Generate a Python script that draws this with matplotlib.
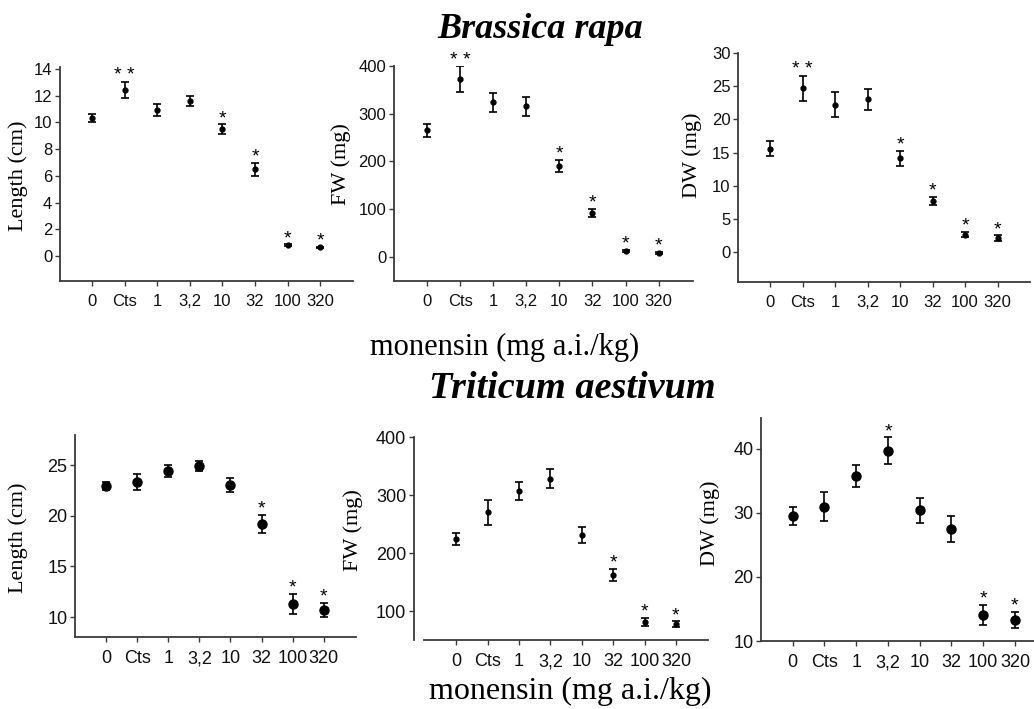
import matplotlib
matplotlib.use('Agg')
import matplotlib.pyplot as plt

W, H = 1034, 709

categories = ['0', 'Cts', '1', '3,2', '10', '32', '100', '320']

# Brassica rapa
br_len = [10.35, 12.45, 10.9, 11.6, 9.5, 6.5, 0.8, 0.65]
br_len_err = [0.3, 0.6, 0.45, 0.35, 0.35, 0.5, 0.07, 0.05]
br_len_sig = ['', '**', '', '', '*', '*', '*', '*']

br_fw = [265, 373, 324, 316, 190, 92, 13, 8]
br_fw_err = [13, 27, 20, 20, 13, 8, 2, 2]
br_fw_sig = ['', '**', '', '', '*', '*', '*', '*']

br_dw = [15.6, 24.7, 22.2, 23.0, 14.1, 7.7, 2.6, 2.1]
br_dw_err = [1.1, 1.9, 1.9, 1.6, 1.1, 0.6, 0.4, 0.4]
br_dw_sig = ['', '**', '', '', '*', '*', '*', '*']

# Triticum aestivum
ta_len = [22.9, 23.3, 24.4, 24.9, 23.0, 19.2, 11.3, 10.7]
ta_len_err = [0.4, 0.8, 0.6, 0.5, 0.7, 0.9, 1.0, 0.7]
ta_len_sig = ['', '', '', '', '', '*', '*', '*']

ta_fw = [224, 270, 307, 328, 231, 162, 81, 77]
ta_fw_err = [10, 21, 15, 16, 13, 11, 7, 5]
ta_fw_sig = ['', '', '', '', '', '*', '*', '*']

ta_dw = [29.6, 31.0, 35.8, 39.7, 30.4, 27.5, 14.1, 13.3]
ta_dw_err = [1.4, 2.3, 1.7, 2.1, 1.9, 2.0, 1.6, 1.2]
ta_dw_sig = ['', '', '', '*', '', '', '*', '*']

fig = plt.figure(figsize=(W / 100, H / 100), dpi=100)

SANS = 'Liberation Sans'
SERIF = 'Liberation Serif'
SPINE = '#3a3a3a'

panels = [
    dict(d=br_len, e=br_len_err, s=br_len_sig, yl='Length (cm)', rect=(60, 67, 353, 281),
         ylim=(-1.87, 14.15), yt=range(0, 15, 2), xlim=(-0.98, 8.0), ms=3.5,
         lab=(18, 176), fs=12, xb=None),
    dict(d=br_fw, e=br_fw_err, s=br_fw_sig, yl='FW (mg)', rect=(394, 66, 693, 281),
         ylim=(-50.3, 400), yt=range(0, 401, 100), xlim=(-1.0, 8.04), ms=3.5,
         lab=(341, 164), fs=12, xb=None),
    dict(d=br_dw, e=br_dw_err, s=br_dw_sig, yl='DW (mg)', rect=(738, 53, 1030, 282),
         ylim=(-4.52, 30), yt=range(0, 31, 5), xlim=(-0.99, 8.0), ms=3.5,
         lab=(692, 155), fs=12, xb=None),
    dict(d=ta_len, e=ta_len_err, s=ta_len_sig, yl='Length (cm)', rect=(75, 435, 356, 637),
         ylim=(8.03, 27.96), yt=range(10, 26, 5), xlim=(-1.0, 8.04), ms=6.5,
         lab=(18, 538), fs=13, xb=None),
    dict(d=ta_fw, e=ta_fw_err, s=ta_fw_sig, yl='FW (mg)', rect=(414, 437, 708, 640),
         ylim=(50, 400), yt=range(100, 401, 100), xlim=(-1.34, 8.02), ms=3.5,
         lab=(353, 530), fs=13, xb=(-1.02, 8.02)),
    dict(d=ta_dw, e=ta_dw_err, s=ta_dw_sig, yl='DW (mg)', rect=(761, 418, 1034, 641),
         ylim=(10, 44.84), yt=range(10, 41, 10), xlim=(-1.0, 7.6), ms=6.5,
         lab=(710, 523), fs=13, xb=None),
]

x = list(range(len(categories)))

for p in panels:
    l, t, r, b = p['rect']
    ax = fig.add_axes([l / W, 1 - b / H, (r - l) / W, (b - t) / H])
    ax.errorbar(x, p['d'], yerr=p['e'], fmt='o', ms=p['ms'], color='black',
                ecolor='black', elinewidth=1.2, capsize=3.2, capthick=1.2)
    for i, (m, e, s) in enumerate(zip(p['d'], p['e'], p['s'])):
        if s:
            ax.annotate(' '.join(s) if len(s) > 1 else s, (i, m + e), xytext=(0, 1),
                        textcoords='offset points', ha='center', va='baseline',
                        fontsize=14, family=SANS)
    ax.set_xlim(*p['xlim'])
    ax.set_ylim(*p['ylim'])
    ax.set_xticks(x)
    ax.set_xticklabels(categories)
    ax.set_yticks(list(p['yt']))
    for sp in ('top', 'right'):
        ax.spines[sp].set_visible(False)
    for sp in ('left', 'bottom'):
        ax.spines[sp].set_color(SPINE)
        ax.spines[sp].set_linewidth(1.3)
    if p['xb'] is not None:
        ax.spines['bottom'].set_bounds(*p['xb'])
    ax.tick_params(axis='both', direction='out', length=3.5, width=1.0, color=SPINE,
                   labelsize=p['fs'], labelcolor='#111111')
    ax.tick_params(axis='x', pad=6)
    ax.tick_params(axis='y', pad=2)
    for lab in ax.get_xticklabels() + ax.get_yticklabels():
        lab.set_family(SANS)
    ax.patch.set_alpha(0)
    fig.text(p['lab'][0] / W, 1 - p['lab'][1] / H, p['yl'], rotation=90,
             ha='center', va='center', family=SERIF, fontsize=16)

fig.text(540 / W, 1 - 29 / H, 'Brassica rapa', ha='center', va='center',
         family=SERIF, fontsize=26, fontweight='bold', style='italic')
fig.text(505 / W, 1 - 347 / H, 'monensin (mg a.i./kg)', ha='center', va='center',
         family=SERIF, fontsize=22)
fig.text(572 / W, 1 - 388 / H, 'Triticum aestivum', ha='center', va='center',
         family=SERIF, fontsize=27.5, fontweight='bold', style='italic')
fig.text(570 / W, 1 - 699 / H, 'monensin (mg a.i./kg)', ha='center', va='baseline',
         family=SERIF, fontsize=23)

fig.savefig('out.png', dpi=100)
